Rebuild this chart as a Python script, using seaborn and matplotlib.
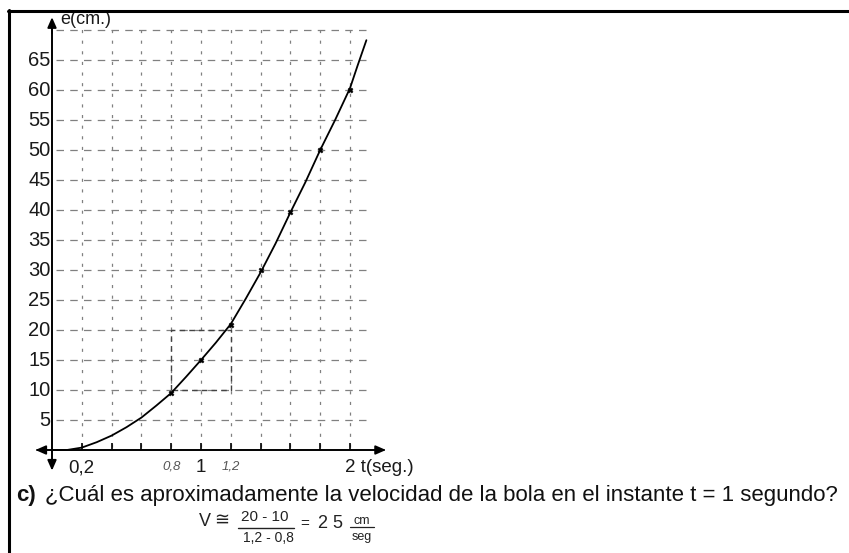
import matplotlib
matplotlib.use("Agg")
import matplotlib.pyplot as plt
from matplotlib.lines import Line2D
import seaborn as sns
import numpy as np

sns.set_theme(style="white")
plt.rcParams['font.family'] = ['Liberation Sans', 'DejaVu Sans']

# ---- data ----
t_curve = [0.0, 0.1, 0.2, 0.3, 0.4, 0.5, 0.6, 0.7, 0.8, 0.9, 1.0, 1.1, 1.2,
           1.3, 1.4, 1.5, 1.6, 1.7, 1.8, 1.9, 2.0, 2.05, 2.11]
e_curve = [0.0, 0.0, 0.4, 1.3, 2.4, 3.8, 5.4, 7.4, 9.5, 12.2, 15.0, 17.9, 21.0,
           25.2, 29.6, 34.4, 39.6, 44.6, 50.0, 55.0, 60.3, 64.0, 68.3]
t_points = [0.8, 1.0, 1.2, 1.4, 1.6, 1.8, 2.0]
e_points = [9.5, 15.0, 20.8, 30.0, 39.6, 50.0, 60.0]
rect_t = [0.8, 0.8, 1.2, 1.2, 0.8]
rect_e = [10, 20, 20, 10, 10]
y_ticks = [5, 10, 15, 20, 25, 30, 35, 40, 45, 50, 55, 60, 65]
x_grid = [0.2, 0.4, 0.6, 0.8, 1.0, 1.2, 1.4, 1.6, 1.8, 2.0]
y_grid = [5, 10, 15, 20, 25, 30, 35, 40, 45, 50, 55, 60, 65, 70]

W, H = 849, 553
fig = plt.figure(figsize=(W / 100, H / 100), dpi=100)
fig.patch.set_facecolor("white")

def fx(x):
    return x / W

def fy(y):
    return 1 - y / H

# axes placed so that t=0 -> x=52px, 1 s = 149 px; e=0 -> y=450px, 1 cm = 6 px
t0, t1 = -0.3, 2.4
e0, e1 = -5, 73
xl = 52 + t0 * 149
xr = 52 + t1 * 149
yb = 450 - e0 * 6
yt = 450 - e1 * 6
ax = fig.add_axes([fx(xl), fy(yb), (xr - xl) / W, (yb - yt) / H])
ax.set_xlim(t0, t1)
ax.set_ylim(e0, e1)
ax.axis("off")

gc = "#808080"
# grid
for yv in y_grid:
    ax.plot([0.03, 2.15], [yv, yv], color=gc, lw=0.9, dashes=(6, 5), zorder=1)
for xv in x_grid:
    ax.plot([xv, xv], [0.5, 70.5], color=gc, lw=0.9, dashes=(2.5, 6), zorder=1)

# axes with arrows
ax.plot([0, 0], [-3.0, 71.0], color="black", lw=1.4, zorder=3)
ax.plot([-0.1, 2.23], [0, 0], color="black", lw=1.4, zorder=3)
ap = dict(arrowstyle="-|>,head_length=0.5,head_width=0.22", color="black", lw=1.4)
ax.annotate("", xy=(0, 72.6), xytext=(0, 69), arrowprops=ap)
ax.annotate("", xy=(0, -3.9), xytext=(0, -1.5), arrowprops=ap)
ax.annotate("", xy=(-0.13, 0), xytext=(-0.05, 0), arrowprops=ap)
ax.annotate("", xy=(2.26, 0), xytext=(2.18, 0), arrowprops=ap)
# x ticks
ax.vlines(x_grid, 0, 1.2, color="black", lw=1.2, zorder=3)

# handwritten dashed rectangle
ax.plot(rect_t, rect_e, color="#444444", lw=1.0, dashes=(4, 3), zorder=2)

# curve and points
sns.lineplot(x=t_curve, y=e_curve, ax=ax, color="black", lw=1.3,
             sort=False, estimator=None, zorder=4)
sns.scatterplot(x=t_points, y=e_points, ax=ax, color="black", s=14,
                marker="X", edgecolor="black", linewidth=0.3, zorder=5)

# y tick labels
for yv in y_ticks:
    ax.text(-0.01, yv, str(yv), ha="right", va="center", fontsize=14.5,
            color="#1a1a1a")
ax.text(0.055, 71.8, "e(cm.)", ha="left", va="center", fontsize=13,
        color="#1a1a1a")

# x labels
ax.text(0.2, -3.0, "0,2", ha="center", va="center", fontsize=13.5, color="#1a1a1a")
ax.text(0.8, -2.7, "0,8", ha="center", va="center", fontsize=9.5, color="#555555",
        style="italic")
ax.text(1.0, -3.0, "1", ha="center", va="center", fontsize=13.5, color="#1a1a1a")
ax.text(1.2, -2.7, "1,2", ha="center", va="center", fontsize=9.5, color="#555555",
        style="italic")
ax.text(1.965, -3.0, "2 t(seg.)", ha="left", va="center", fontsize=13.5,
        color="#1a1a1a")

# frame lines
fig.add_artist(Line2D([fx(8), fx(849)], [fy(10.5), fy(10.5)], color="black",
                      lw=2.2, transform=fig.transFigure))
fig.add_artist(Line2D([fx(8.5), fx(8.5)], [fy(9.5), fy(553)], color="black",
                      lw=2.2, transform=fig.transFigure))

# question text
fig.text(fx(16), fy(495), "c)", fontsize=16.0, fontweight="bold", ha="left",
         va="center", color="#111111")
fig.text(fx(45), fy(495),
         "¿Cuál es aproximadamente la velocidad de la bola en el instante t = 1 segundo?",
         fontsize=16.0, ha="left", va="center", color="#111111")

# handwritten formula
hc = "#222222"
fig.text(fx(205), fy(522), "V", fontsize=13, ha="center", va="center", color=hc)
fig.text(fx(222), fy(521), "≅", fontsize=13, ha="center", va="center", color=hc,
         family=["DejaVu Sans"])
fig.text(fx(265), fy(517), "20 - 10", fontsize=11, ha="center", va="center", color=hc)
fig.add_artist(Line2D([fx(238), fx(294)], [fy(528), fy(528)], color=hc, lw=1.0,
                      transform=fig.transFigure))
fig.text(fx(268), fy(538), "1,2 - 0,8", fontsize=10, ha="center", va="center", color=hc)
fig.text(fx(305), fy(524), "=", fontsize=11, ha="center", va="center", color=hc)
fig.text(fx(330), fy(523), "2 5", fontsize=13, ha="center", va="center", color=hc)
fig.text(fx(362), fy(521), "cm", fontsize=9, ha="center", va="center", color=hc)
fig.add_artist(Line2D([fx(350), fx(374)], [fy(527), fy(527)], color=hc, lw=0.9,
                      transform=fig.transFigure))
fig.text(fx(362), fy(537), "seg", fontsize=9, ha="center", va="center", color=hc)

fig.savefig("out.png", dpi=100, facecolor="white")
